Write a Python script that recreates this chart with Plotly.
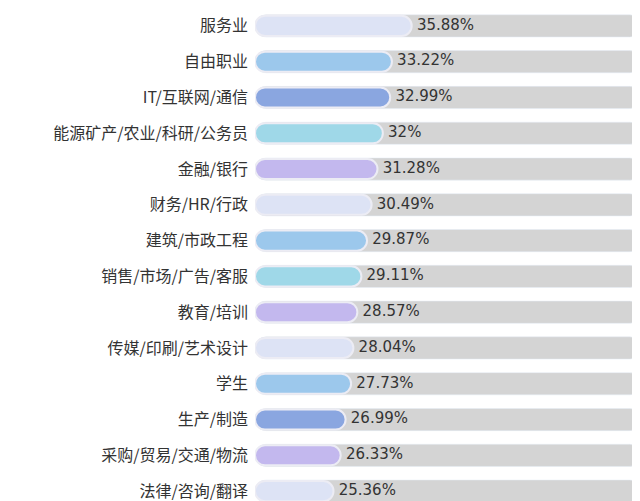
import plotly.graph_objects as go

categories = ["服务业", "自由职业", "IT/互联网/通信", "能源矿产/农业/科研/公务员", "金融/银行",
              "财务/HR/行政", "建筑/市政工程", "销售/市场/广告/客服", "教育/培训", "传媒/印刷/艺术设计",
              "学生", "生产/制造", "采购/贸易/交通/物流", "法律/咨询/翻译"]
values = [35.88, 33.22, 32.99, 32, 31.28, 30.49, 29.87, 29.11, 28.57, 28.04, 27.73, 26.99, 26.33, 25.36]
labels = ["35.88%", "33.22%", "32.99%", "32%", "31.28%", "30.49%", "29.87%", "29.11%",
          "28.57%", "28.04%", "27.73%", "26.99%", "26.33%", "25.36%"]
colors = ["#dde3f5", "#9cc8ec", "#8aa6e0", "#9fd8e8", "#c3b8ee", "#dde3f5", "#9cc8ec",
          "#9fd8e8", "#c3b8ee", "#dde3f5", "#9cc8ec", "#8aa6e0", "#c3b8ee", "#dde3f5"]

x_min, x_max = 14.8, 67.0

fig = go.Figure()
fig.add_trace(go.Bar(
    y=categories, x=[x_max - 0.3 - x_min] * len(values), base=x_min, orientation="h",
    marker=dict(color="#d4d4d4", cornerradius=11), width=0.62, hoverinfo="skip"))
fig.add_trace(go.Bar(
    y=categories, x=[v - x_min for v in values], base=x_min, orientation="h",
    marker=dict(color=colors, cornerradius=10, line=dict(color="#ececf4", width=2)),
    width=0.56))
fig.add_trace(go.Scatter(
    y=categories, x=[v + 0.7 for v in values], mode="text", text=labels,
    textposition="middle right", textfont=dict(size=15, color="#333333", family="DejaVu Sans")))

fig.update_layout(
    width=640, height=501, barmode="overlay", showlegend=False,
    paper_bgcolor="white", plot_bgcolor="white",
    margin=dict(l=247, r=5, t=0, b=0),
    font=dict(family="Noto Sans CJK SC", size=16, color="#333333"),
    xaxis=dict(range=[x_min, x_max], visible=False),
    yaxis=dict(autorange=False, range=[13.5, -0.5], showgrid=False, ticks="",
               ticklabelstandoff=6, automargin=False),
)
fig.write_html("out.html")
